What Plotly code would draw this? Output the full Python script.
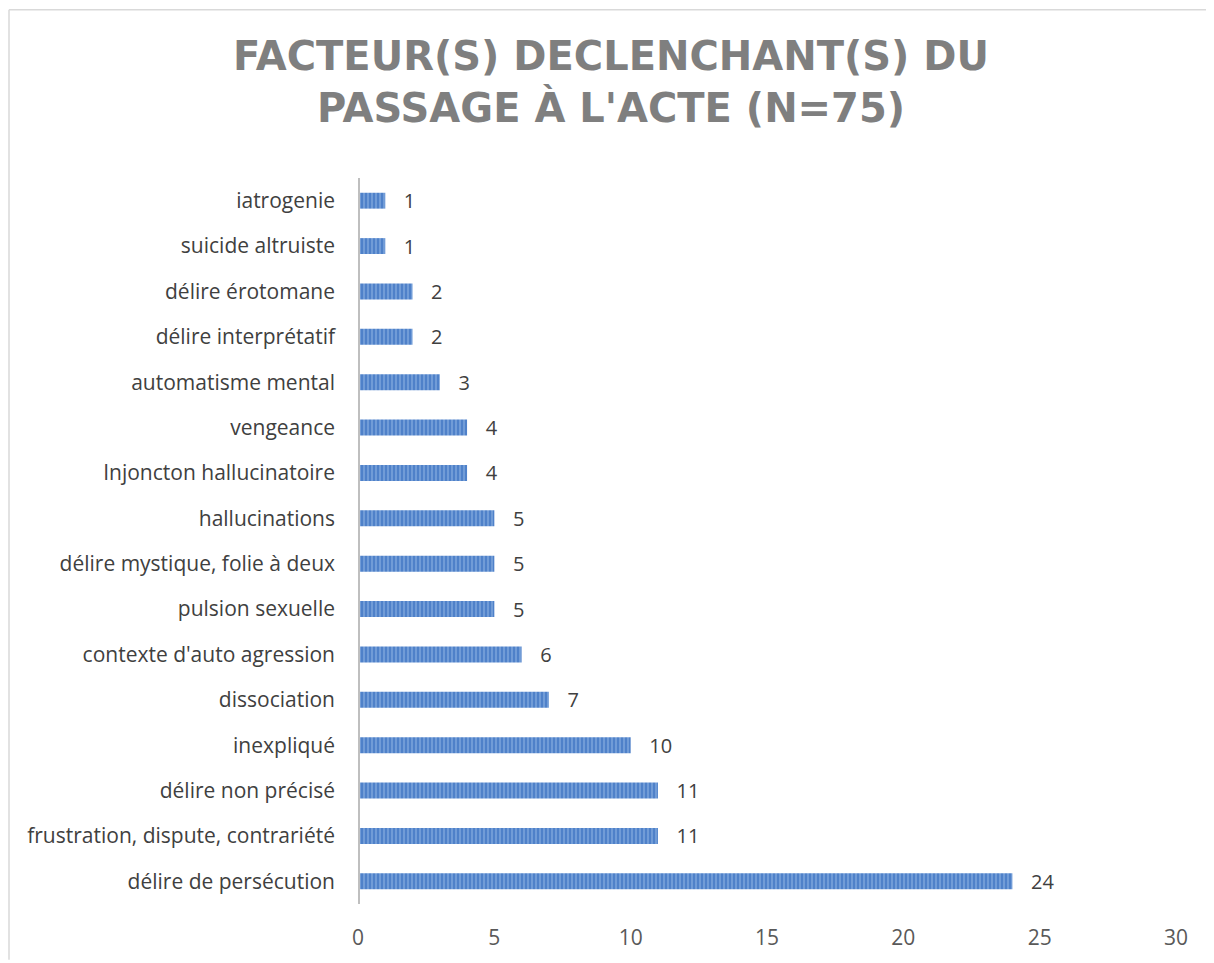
import plotly.graph_objects as go

# categories listed bottom to top, as drawn
categories = [
    "délire de persécution",
    "frustration, dispute, contrariété",
    "délire non précisé",
    "inexpliqué",
    "dissociation",
    "contexte d'auto agression",
    "pulsion sexuelle",
    "délire mystique, folie à deux",
    "hallucinations",
    "Injoncton hallucinatoire",
    "vengeance",
    "automatisme mental",
    "délire interprétatif",
    "délire érotomane",
    "suicide altruiste",
    "iatrogenie",
]
counts = [24, 11, 11, 10, 7, 6, 5, 5, 5, 4, 4, 3, 2, 2, 1, 1]
x_ticks = [0, 5, 10, 15, 20, 25, 30]

title = "FACTEUR(S) DECLENCHANT(S) DU<br>PASSAGE À L'ACTE (N=75)"

# page body has an 8px margin, so the figure is a bit smaller than the window
W, H = 1206, 955
L, R, T, B = 350, 38, 170, 56

fig = go.Figure()
fig.add_trace(
    go.Bar(
        x=counts,
        y=categories,
        orientation="h",
        width=0.35,
        marker=dict(
            color="#4F81C9",
            line=dict(width=0),
            pattern=dict(
                shape="|",
                bgcolor="#4F81C9",
                fgcolor="#93B7E5",
                size=4,
                solidity=0.5,
                fillmode="overlay",
            ),
        ),
        text=counts,
        texttemplate="   %{x}",
        textposition="outside",
        constraintext="none",
        textfont=dict(size=20, color="#404040", family="Open Sans"),
        cliponaxis=False,
        hoverinfo="x+y",
    )
)

fig.update_layout(
    width=W,
    height=H,
    margin=dict(l=L, r=R, t=T, b=B),
    paper_bgcolor="white",
    plot_bgcolor="white",
    showlegend=False,
    title=dict(
        text=title,
        x=0.5,
        xref="container",
        xanchor="center",
        y=0.935,
        yref="container",
        yanchor="top",
        font=dict(family="DejaVu Sans", size=40, color="#7F7F7F", weight="bold"),
    ),
    xaxis=dict(
        range=[0, 30],
        tickvals=x_ticks,
        showgrid=False,
        zeroline=False,
        showline=False,
        ticks="",
        tickfont=dict(family="Open Sans", size=21, color="#595959"),
        ticklabelstandoff=19,
    ),
    yaxis=dict(
        showgrid=False,
        zeroline=False,
        showline=False,
        ticks="",
        tickfont=dict(family="Open Sans", size=21, color="#404040"),
        ticklabelstandoff=22,
    ),
)

plot_w = W - L - R
plot_h = H - T - B

# vertical axis line at x=0
fig.add_shape(type="line", xref="x", yref="paper", x0=0, x1=0, y0=0, y1=1,
              line=dict(color="#BFBFBF", width=4))
# chart frame (top and left edges)
fx = -(L - 1) / plot_w
fy = 1 + (T - 1) / plot_h
fig.add_shape(type="line", xref="paper", yref="paper", x0=fx, x1=1 + R / plot_w,
              y0=fy, y1=fy, line=dict(color="#D9D9D9", width=1.5))
fig.add_shape(type="line", xref="paper", yref="paper", x0=fx, x1=fx,
              y0=-B / plot_h, y1=fy, line=dict(color="#D9D9D9", width=1.5))

fig.write_html("out.html")
